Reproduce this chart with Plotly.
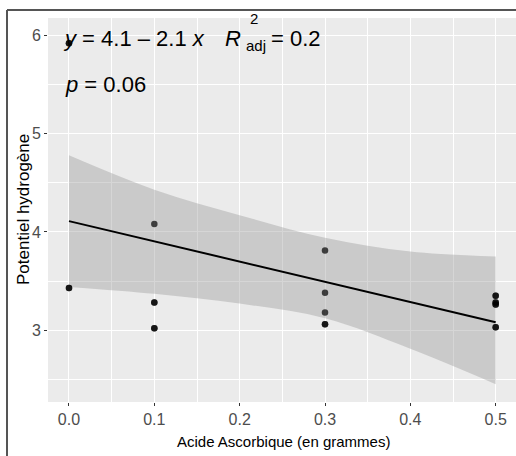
import plotly.graph_objects as go

# Observations: ascorbic acid dose (g) and measured pH (repeated values overlap)
acide = [0.0, 0.0, 0.0, 0.0,
         0.1, 0.1, 0.1, 0.1, 0.1,
         0.3, 0.3, 0.3, 0.3, 0.3,
         0.5, 0.5, 0.5, 0.5, 0.5, 0.5, 0.5, 0.5]
ph = [5.92, 5.92, 3.43, 3.43,
      4.08, 3.28, 3.28, 3.02, 3.02,
      3.81, 3.38, 3.18, 3.06, 3.06,
      3.35, 3.35, 3.28, 3.28, 3.26, 3.26, 3.03, 3.03]

# Linear fit and its 95% confidence band
fit_intercept = 4.11
fit_slope = -2.06
band_x = [0.0, 0.1, 0.2, 0.3, 0.4, 0.5]
band_low = [3.44, 3.37, 3.27, 3.12, 2.81, 2.45]
band_high = [4.78, 4.43, 4.17, 3.94, 3.80, 3.75]

x_ticks = [0.0, 0.1, 0.2, 0.3, 0.4, 0.5]
x_tick_labels = ["0.0", "0.1", "0.2", "0.3", "0.4", "0.5"]
y_ticks = [3, 4, 5, 6]
y_tick_labels = ["3", "4", "5", "6"]

FONT = "Liberation Sans, Arial, sans-serif"
W, H = 516, 456
ML, MR, MT, MB = 48, 0, 18, 54
PW, PH = W - ML - MR, H - MT - MB


def px(xp):
    return (xp - ML) / PW


def py(yp):
    return (H - MB - yp) / PH


fig = go.Figure()

fig.add_trace(go.Scatter(
    x=band_x, y=band_high, mode="lines", line=dict(width=0, shape="spline"),
    hoverinfo="skip", showlegend=False))
fig.add_trace(go.Scatter(
    x=band_x, y=band_low, mode="lines", line=dict(width=0, shape="spline"),
    fill="tonexty", fillcolor="rgba(153,153,153,0.4)",
    hoverinfo="skip", showlegend=False))

line_x = [band_x[0], band_x[-1]]
line_y = [fit_intercept + fit_slope * v for v in line_x]
fig.add_trace(go.Scatter(
    x=line_x, y=line_y, mode="lines", line=dict(color="black", width=2),
    showlegend=False))

fig.add_trace(go.Scatter(
    x=acide, y=ph, mode="markers",
    marker=dict(color="black", size=6.5, opacity=0.7, line=dict(width=0)),
    showlegend=False))

grid_minor = dict(showgrid=True, gridcolor="white", gridwidth=0.6)

fig.update_xaxes(
    range=[-0.0246, 0.5238], tickvals=x_ticks, ticktext=x_tick_labels,
    showgrid=True, gridcolor="white", gridwidth=1.2,
    minor=dict(dtick=0.05, tick0=0.05, **grid_minor),
    ticks="outside", ticklen=3, tickcolor="#333333", tickwidth=1,
    tickfont=dict(family=FONT, size=16, color="#4d4d4d"),
    zeroline=False, showline=False)
fig.update_yaxes(
    range=[2.268, 6.178], tickvals=y_ticks, ticktext=y_tick_labels,
    showgrid=True, gridcolor="white", gridwidth=1.2,
    minor=dict(dtick=0.5, tick0=2.5, **grid_minor),
    ticks="outside", ticklen=3, tickcolor="#333333", tickwidth=1,
    tickfont=dict(family=FONT, size=16, color="#4d4d4d"),
    zeroline=False, showline=False)

# Axis titles
title_font = dict(family=FONT, size=15, color="black")
annotations = [
    dict(x=px(283), y=py(441), text="Acide Ascorbique (en grammes)",
         xanchor="center", yanchor="middle", font=title_font),
    dict(x=px(23), y=py(210), text="Potentiel hydrogène", textangle=-90,
         xanchor="center", yanchor="middle", font=dict(title_font, size=17)),
]

# Equation, adjusted R² and p-value
ann_font = dict(family=FONT, size=22, color="black")
small_font = dict(family=FONT, size=15, color="black")
annotations += [
    dict(x=px(61), y=py(38), text="<i>y</i> = 4.1 \u2013 2.1 <i>x</i>",
         xanchor="left", yanchor="middle", font=ann_font),
    dict(x=px(223), y=py(38), text="<i>R</i>",
         xanchor="left", yanchor="middle", font=ann_font),
    dict(x=px(248), y=py(18), text="2",
         xanchor="left", yanchor="middle", font=small_font),
    dict(x=px(244), y=py(46), text="adj",
         xanchor="left", yanchor="middle", font=small_font),
    dict(x=px(269), y=py(38), text="= 0.2",
         xanchor="left", yanchor="middle", font=ann_font),
    dict(x=px(63), y=py(85), text="<i>p</i> = 0.06",
         xanchor="left", yanchor="middle", font=ann_font),
]
for a in annotations:
    a.update(xref="paper", yref="paper", showarrow=False)

# Outer frame (left and top edges visible)
frame = [
    dict(type="line", xref="paper", yref="paper",
         x0=px(7), x1=px(7), y0=py(460), y1=py(10),
         line=dict(color="#555555", width=2)),
    dict(type="line", xref="paper", yref="paper",
         x0=px(7), x1=px(520), y0=py(10), y1=py(10),
         line=dict(color="#555555", width=2)),
]

fig.update_layout(
    width=W, height=H,
    margin=dict(l=ML, r=MR, t=MT, b=MB),
    paper_bgcolor="white", plot_bgcolor="#ebebeb",
    annotations=annotations, shapes=frame,
    showlegend=False,
)

fig.write_html("out.html")
